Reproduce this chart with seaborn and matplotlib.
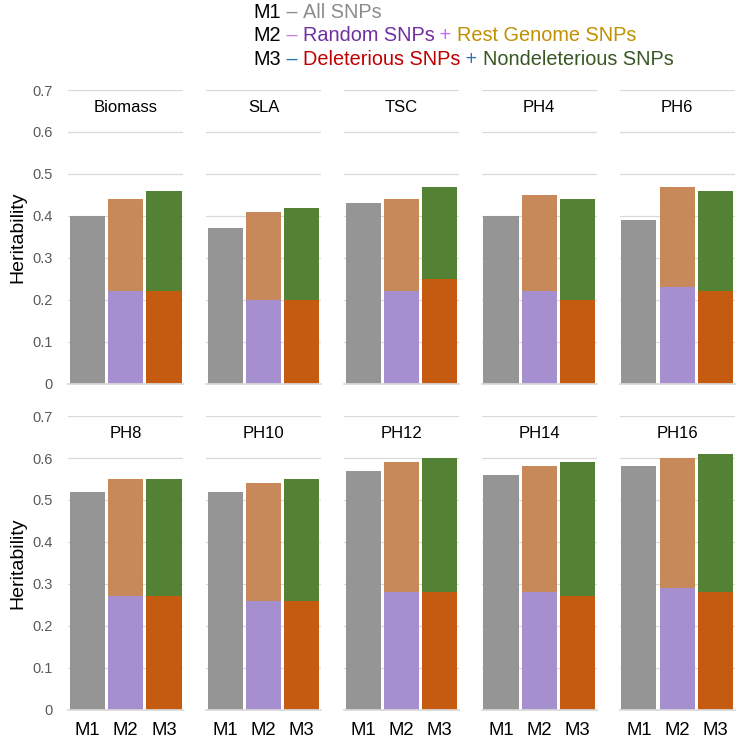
import matplotlib
matplotlib.use("Agg")
import matplotlib.pyplot as plt
import seaborn as sns
import pandas as pd

# heritability per trait
traits = ["Biomass", "SLA", "TSC", "PH4", "PH6", "PH8", "PH10", "PH12", "PH14", "PH16"]
models = ["M1", "M2", "M3"]
m1_all = [0.40, 0.37, 0.43, 0.40, 0.39, 0.52, 0.52, 0.57, 0.56, 0.58]
m2_random = [0.22, 0.20, 0.22, 0.22, 0.23, 0.27, 0.26, 0.28, 0.28, 0.29]
m2_total = [0.44, 0.41, 0.44, 0.45, 0.47, 0.55, 0.54, 0.59, 0.58, 0.60]
m3_deleterious = [0.22, 0.20, 0.25, 0.20, 0.22, 0.27, 0.26, 0.28, 0.27, 0.28]
m3_total = [0.46, 0.42, 0.47, 0.44, 0.46, 0.55, 0.55, 0.60, 0.59, 0.61]
y_ticks = [0, 0.1, 0.2, 0.3, 0.4, 0.5, 0.6, 0.7]

GRAY = "#959595"
TAN = "#C8895A"
GREEN = "#548235"
LAVENDER = "#A68FCE"
ORANGE = "#C55A11"

sns.set_theme(style="white")
plt.rcParams["font.family"] = ["Liberation Sans", "DejaVu Sans"]

fig, axes = plt.subplots(2, 5, figsize=(7.42, 7.44), dpi=100, sharey=True)
fig.subplots_adjust(left=0.092, right=0.99, top=0.879, bottom=0.046,
                    wspace=0.2, hspace=0.11)

for i, trait in enumerate(traits):
    ax = axes.flat[i]
    df = pd.DataFrame({
        "model": models,
        "total": [m1_all[i], m2_total[i], m3_total[i]],
        "lower": [0, m2_random[i], m3_deleterious[i]],
    })
    ax.set_axisbelow(True)
    ax.yaxis.grid(True, color="#d9d9d9", linewidth=0.9)
    # full stack height first, then the lower component on top of it
    sns.barplot(data=df, x="model", y="total", hue="model",
                palette=[GRAY, TAN, GREEN], saturation=1, width=0.92,
                errorbar=None, legend=False, linewidth=0, ax=ax)
    sns.barplot(data=df, x="model", y="lower", hue="model",
                palette=[GRAY, LAVENDER, ORANGE], saturation=1, width=0.92,
                errorbar=None, legend=False, linewidth=0, ax=ax)
    ax.text(1, 0.658, trait, ha="center", va="center", fontsize=12, color="black")
    ax.set_ylim(0, 0.7)
    ax.set_xlim(-0.5, 2.5)
    ax.set_yticks(y_ticks)
    ax.set_yticklabels(["0"] + [f"{t:.1f}" for t in y_ticks[1:]])
    ax.tick_params(axis="y", length=0, labelsize=10.5, labelcolor="#595959", pad=11.5)
    ax.tick_params(axis="x", length=0, labelsize=13.3, labelcolor="black", pad=9)
    for s in ["top", "right", "left"]:
        ax.spines[s].set_visible(False)
    ax.spines["bottom"].set_color("#d9d9d9")
    ax.set_xlabel("")
    if i % 5 == 0:
        ax.set_ylabel("Heritability", fontsize=14, color="black", labelpad=4)
    else:
        ax.set_ylabel("")
    if i < 5:
        ax.set_xticklabels([])

# legend text built from coloured pieces
legend_lines = [
    [("M1", "black"), (" \u2013 ", "#8c8c8c"), ("All SNPs", "#8c8c8c")],
    [("M2", "black"), (" \u2013 ", "#C77FE0"), ("Random SNPs", "#7030A0"),
     (" + ", "#CC66FF"), ("Rest Genome SNPs", "#BF9000")],
    [("M3", "black"), (" \u2013 ", "#2E75B6"), ("Deleterious SNPs", "#C00000"),
     (" + ", "#2E75B6"), ("Nondeleterious SNPs", "#385723")],
]
line_y = [0.976, 0.945, 0.913]
for y, pieces in zip(line_y, legend_lines):
    last = None
    for txt, col in pieces:
        if last is None:
            last = fig.text(0.341, y, txt, color=col, fontsize=14.3,
                            ha="left", va="baseline")
        else:
            last = plt.annotate(txt, xy=(1, 0), xycoords=last, color=col,
                                fontsize=14.3, ha="left", va="bottom",
                                annotation_clip=False)

fig.savefig("out.png", dpi=100)
